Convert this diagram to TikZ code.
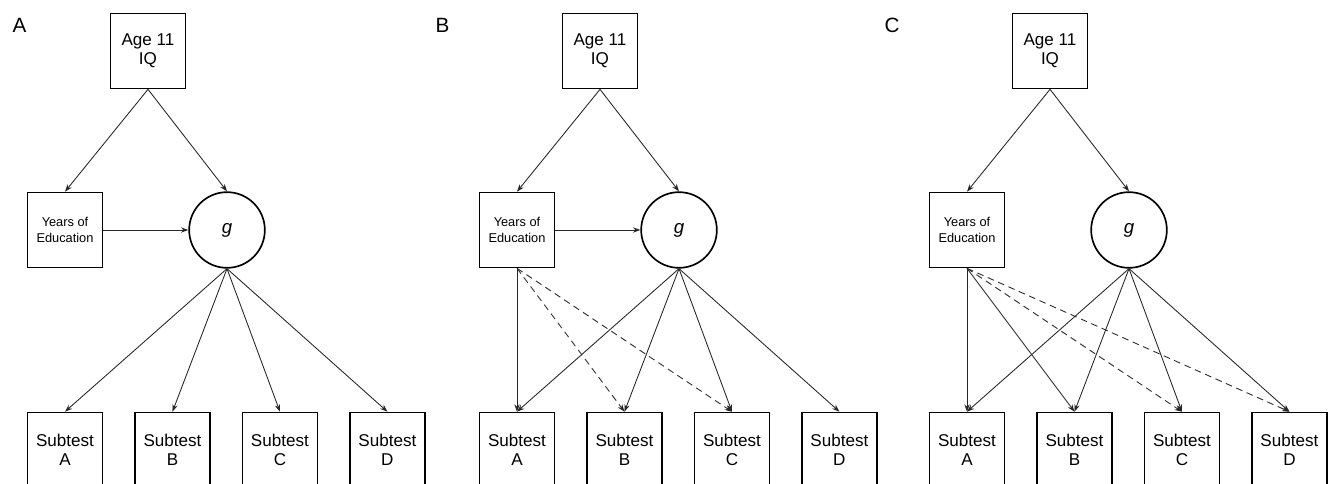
\documentclass[tikz,border=0pt]{standalone}
\usepackage{fontspec}
\setmainfont{Liberation Sans}
\usepackage{tikz}
\usetikzlibrary{arrows.meta, positioning}

\begin{document}
\begin{tikzpicture}[
    x=0.75pt, y=-0.75pt,
    observed/.style={rectangle, draw=black, line width=1.25pt, minimum width=56.25pt, minimum height=56.25pt, inner sep=0pt, align=center, font=\fontsize{12.8}{14.3}\selectfont},
    educ/.style={observed, font=\fontsize{9.6}{11.7}\selectfont},
    latent/.style={circle, draw=black, line width=1.25pt, minimum size=56.75pt, inner sep=0pt, font=\fontsize{14}{16}\selectfont\itshape},
    panel/.style={font=\fontsize{15.5}{18}\selectfont},
    arrow/.style={-{Stealth[length=5.5pt, width=4pt]}, line width=0.65pt, draw=black!85},
    dasharrow/.style={arrow, dash pattern=on 5pt off 3.5pt},
    node distance=23.1pt
]
\useasboundingbox (0,0) rectangle (1331,484);
\clip (0,0) rectangle (1331,484);

% Panel A
\node[panel] (labA) at (19.5,25) {A};
\node[observed] (ageA) at (148,51) {Age 11\\IQ};
\node[educ] (eduA) at (65,230) {Years of\\Education};
\node[latent] (gA) at (227,230) {g};
\node[observed] (sA1) at (65,450) {Subtest\\A};
\node[observed, right=of sA1] (sA2) {Subtest\\B};
\node[observed, right=of sA2] (sA3) {Subtest\\C};
\node[observed, right=of sA3] (sA4) {Subtest\\D};

% Panel B
\node[panel] (labB) at (442.5,25) {B};
\node[observed] (ageB) at (600,51) {Age 11\\IQ};
\node[educ] (eduB) at (517,230) {Years of\\Education};
\node[latent] (gB) at (679,230) {g};
\node[observed] (sB1) at (517,450) {Subtest\\A};
\node[observed, right=of sB1] (sB2) {Subtest\\B};
\node[observed, right=of sB2] (sB3) {Subtest\\C};
\node[observed, right=of sB3] (sB4) {Subtest\\D};

% Panel C
\node[panel] (labC) at (892,25) {C};
\node[observed] (ageC) at (1050,51) {Age 11\\IQ};
\node[educ] (eduC) at (967,230) {Years of\\Education};
\node[latent] (gC) at (1129,230) {g};
\node[observed] (sC1) at (967,450) {Subtest\\A};
\node[observed, right=of sC1] (sC2) {Subtest\\B};
\node[observed, right=of sC2] (sC3) {Subtest\\C};
\node[observed, right=of sC3] (sC4) {Subtest\\D};

% Arrows A
\draw[arrow] (ageA.south) -- (eduA.north);
\draw[arrow] (ageA.south) -- (gA.north);
\draw[arrow] (eduA.east) -- (gA.west);
\draw[arrow] (gA.south) -- (sA1.north);
\draw[arrow] (gA.south) -- (sA2.north);
\draw[arrow] (gA.south) -- (sA3.north);
\draw[arrow] (gA.south) -- (sA4.north);

% Arrows B
\draw[arrow] (ageB.south) -- (eduB.north);
\draw[arrow] (ageB.south) -- (gB.north);
\draw[arrow] (eduB.east) -- (gB.west);
\draw[arrow] (gB.south) -- (sB1.north);
\draw[arrow] (gB.south) -- (sB2.north);
\draw[arrow] (gB.south) -- (sB3.north);
\draw[arrow] (gB.south) -- (sB4.north);
\draw[arrow] (eduB.south) -- (sB1.north);
\draw[dasharrow] (eduB.south) -- (sB2.north);
\draw[dasharrow] (eduB.south) -- (sB3.north);

% Arrows C
\draw[arrow] (ageC.south) -- (eduC.north);
\draw[arrow] (ageC.south) -- (gC.north);
\draw[arrow] (gC.south) -- (sC1.north);
\draw[arrow] (gC.south) -- (sC2.north);
\draw[arrow] (gC.south) -- (sC3.north);
\draw[arrow] (gC.south) -- (sC4.north);
\draw[arrow] (eduC.south) -- (sC1.north);
\draw[arrow] (eduC.south) -- (sC2.north);
\draw[dasharrow] (eduC.south) -- (sC3.north);
\draw[dasharrow] (eduC.south) -- (sC4.north);

\end{tikzpicture}
\end{document}
